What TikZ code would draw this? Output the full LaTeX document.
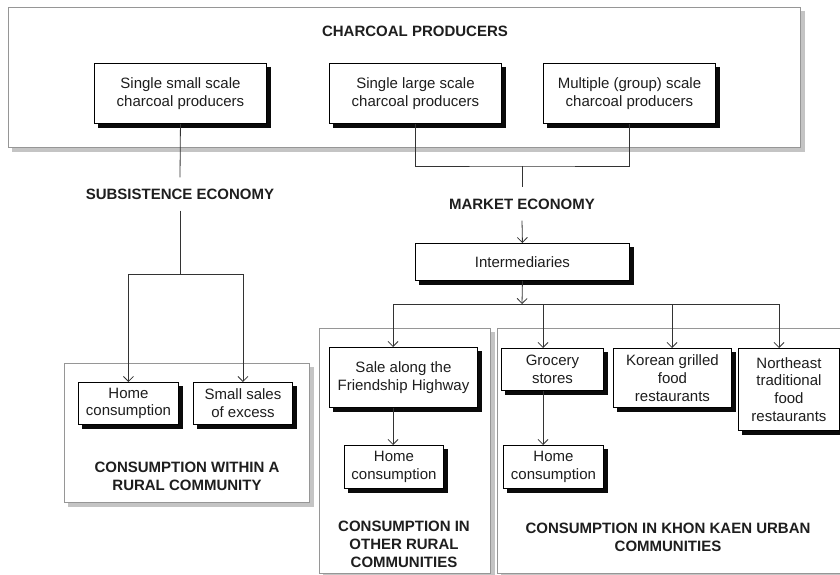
\documentclass[tikz,border=0pt]{standalone}
\usepackage{fontspec}
\setmainfont{Liberation Sans}
\usetikzlibrary{arrows.meta}
\definecolor{shblack}{RGB}{10,10,10}
\definecolor{shgray}{RGB}{196,196,196}
\definecolor{pnlborder}{RGB}{150,150,150}
\definecolor{txtdark}{RGB}{30,30,30}
\newcommand\myshbox[7]{%
  \node[#7, minimum width=#4, minimum height=#5] (#1) at (#2,#3) {#6};
  \draw[#7shadow] ([shift={(2.4,4)}]#1.north east) -- ([shift={(2.4,2.4)}]#1.south east) -- ([shift={(4,2.4)}]#1.south west);}
\begin{document}
\begin{tikzpicture}[x=1pt,y=-1pt,
  every node/.style={font=\fontsize{15}{17.7}\selectfont, align=center, inner sep=0pt},
  box/.style={draw=black, line width=0.9pt, fill=white, anchor=north west, text=txtdark},
  panel/.style={draw=pnlborder, line width=0.8pt, fill=white, anchor=north west},
  boxshadow/.style={draw=shblack, line width=4pt, line join=miter, line cap=butt},
  panelshadow/.style={draw=shgray, line width=4pt, line join=miter, line cap=butt},
  lbl/.style={font=\fontsize{15}{18}\selectfont\bfseries, inner ysep=11pt, text=txtdark},
  conn/.style={draw=black!80, line width=0.8pt},
  arr/.style={conn, -{Straight Barb[length=5pt,width=10pt]}}
]
\useasboundingbox (0,0) rectangle (840,575);

% panels
\myshbox{ptop}{8}{7}{792}{140}{}{panel}
\myshbox{prural}{64}{363}{245}{139}{}{panel}
\myshbox{pother}{319}{328}{171}{245}{}{panel}
\myshbox{purban}{497}{328}{360}{245}{}{panel}

% titles
\node[lbl] (tcp) at (415,31) {CHARCOAL PRODUCERS};
\node[lbl] (tsub) at (180,194) {SUBSISTENCE ECONOMY};
\node[lbl] (tmkt) at (522,204) {MARKET ECONOMY};
\node[lbl, inner ysep=0pt] (trural) at (187,476) {CONSUMPTION WITHIN A\\RURAL COMMUNITY};
\node[lbl, inner ysep=0pt] (tother) at (404,544) {CONSUMPTION IN\\OTHER RURAL\\COMMUNITIES};
\node[lbl, inner ysep=0pt] (turban) at (668,537) {CONSUMPTION IN KHON KAEN URBAN\\COMMUNITIES};

% boxes
\myshbox{b1}{94}{63}{172}{60}{Single small scale\\charcoal producers}{box}
\myshbox{b2}{329}{63}{172}{60}{Single large scale\\charcoal producers}{box}
\myshbox{b3}{543}{63}{172}{60}{Multiple (group) scale\\charcoal producers}{box}
\myshbox{inter}{415}{243}{214}{37}{Intermediaries}{box}
\myshbox{hc1}{78}{382}{100}{42}{Home\\consumption}{box}
\myshbox{ss}{193}{382}{99}{42}{Small sales\\of excess}{box}
\myshbox{sale}{329}{347}{148}{60}{Sale along the\\Friendship Highway}{box}
\myshbox{hc2}{344}{445}{99}{43}{Home\\consumption}{box}
\myshbox{gro}{501}{348}{102}{42}{Grocery\\stores}{box}
\myshbox{hc3}{503}{445}{100}{43}{Home\\consumption}{box}
\myshbox{kor}{613}{348}{118}{59}{Korean grilled\\food\\restaurants}{box}
\myshbox{ne}{738}{348}{101}{82}{Northeast\\traditional\\food\\restaurants}{box}

% junction coordinates
\coordinate (j1) at (180,274);
\coordinate (j2) at (522,166);
\coordinate (j3) at (522,304);
\coordinate (hl) at (393,304);
\coordinate (hg) at (543,304);
\coordinate (hk) at (672,304);
\coordinate (hr) at (779,304);

% subsistence branch
\draw[conn] (b1.south) -- (tsub.north);
\draw[conn] (tsub.south) -- (j1);
\draw[arr] (j1) -| (hc1.north);
\draw[arr] (j1) -| (ss.north);

% market branch
\draw[conn] (b2.south) |- (j2) -| (b3.south);
\draw[conn] (j2) -- (tmkt.north);
\draw[arr] (tmkt.south) -- (inter.north);
\draw[arr] (inter.south) -- (j3);
\draw[conn] (hl) -- (hr);
\draw[arr] (hl) -- (hl |- sale.north);
\draw[arr] (hg) -- (hg |- gro.north);
\draw[arr] (hk) -- (hk |- kor.north);
\draw[arr] (hr) -- (hr |- ne.north);
\draw[arr] (sale.south -| hl) -- (hc2.north -| hl);
\draw[arr] (gro.south -| hg) -- (hc3.north -| hg);
\end{tikzpicture}
\end{document}
